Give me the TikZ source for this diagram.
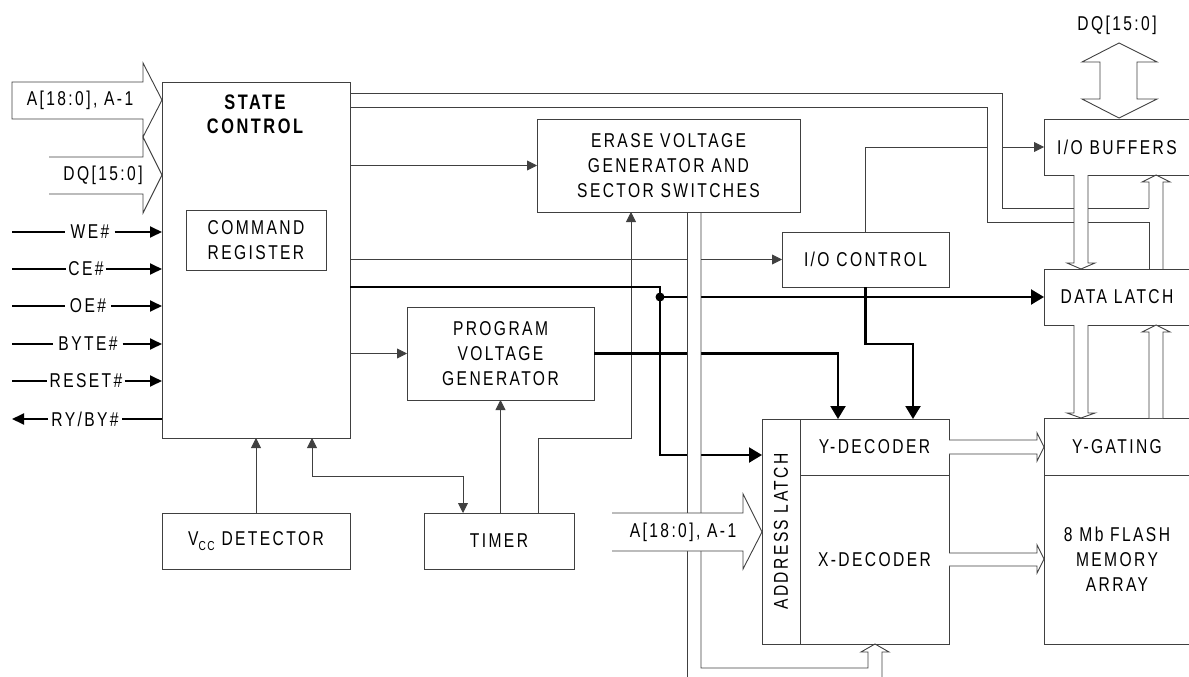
\documentclass[tikz,border=0pt]{standalone}
\usepackage{fontspec}
\setmainfont{Liberation Sans}[FakeStretch=0.78,LetterSpace=12]
\usetikzlibrary{arrows.meta}
\begin{document}
\begin{tikzpicture}[x=1pt,y=-1pt,
  font=\fontsize{20}{25}\selectfont,
  box/.style={draw=black!75,line width=0.9pt,fill=white,inner sep=0pt,outer sep=0pt,align=center,anchor=north west},
  ln/.style={draw=black!75,line width=0.9pt},
  tarr/.style={ln,-{Triangle[length=10pt,width=10pt]}},
  thk/.style={draw=black,line width=2.2pt},
  karr/.style={thk,-{Triangle[length=13pt,width=15pt]}},
  sgl/.style={draw=black,line width=1.8pt},
  sarr/.style={sgl,-{Triangle[length=12pt,width=11pt]}},
  hol/.style={draw=black!75,line width=0.9pt,fill=white,line join=miter},
  lbl/.style={inner sep=0pt,align=center},
  sig/.style={inner xsep=5pt,inner ysep=0pt}
]
\useasboundingbox (0,0) rectangle (1189,677);

% ---------- boxes ----------
\node[box,minimum width=188pt,minimum height=356pt] (sc) at (162,82) {};
\node[lbl,font=\fontsize{21}{24}\selectfont\bfseries] (sct) at (255,114) {STATE\\CONTROL};
\node[box,minimum width=140pt,minimum height=60pt] (cmd) at (186,210) {COMMAND\\REGISTER};
\node[box,minimum width=263pt,minimum height=93pt] (erase) at (537,119) {ERASE VOLTAGE\\GENERATOR AND\\SECTOR SWITCHES};
\node[box,minimum width=187pt,minimum height=93pt] (pvg) at (407,307) {PROGRAM\\VOLTAGE\\GENERATOR};
\node[box,minimum width=188pt,minimum height=56pt] (vcc) at (162,513) {V\raisebox{-5pt}{\fontsize{13}{13}\selectfont CC} DETECTOR};
\node[box,minimum width=150pt,minimum height=56pt] (tm) at (424,513) {TIMER};
\node[box,minimum width=167pt,minimum height=55pt] (ioc) at (782,232) {I/O CONTROL};
\node[box,minimum width=146pt,minimum height=56pt] (iob) at (1044,119) {I/O BUFFERS};
\node[box,minimum width=146pt,minimum height=56pt] (dl) at (1044,269) {DATA LATCH};
\node[box,minimum width=38pt,minimum height=225pt] (al) at (762,419) {};
\node[lbl,rotate=90] (alt) at (al.center) {ADDRESS LATCH};
\node[box,minimum width=149pt,minimum height=56pt] (yd) at (800,419) {Y-DECODER};
\node[box,minimum width=149pt,minimum height=169pt] (xd) at (800,475) {X-DECODER};
\node[box,minimum width=146pt,minimum height=57pt] (yg) at (1044,418) {Y-GATING};
\node[box,minimum width=146pt,minimum height=169pt] (fm) at (1044,475) {8 Mb FLASH\\MEMORY\\ARRAY};

% ---------- input signals ----------
\node[sig] (we) at (90,232) {WE\#};
\draw[sgl] (12,232) -- (we.west);
\draw[sarr] (we.east) -- (we.east -| sc.west);
\node[sig,inner xsep=2pt] (ce) at (86,269) {CE\#};
\draw[sgl] (12,269) -- (ce.west);
\draw[sarr] (ce.east) -- (ce.east -| sc.west);
\node[sig] (oe) at (88,306) {OE\#};
\draw[sgl] (12,306) -- (oe.west);
\draw[sarr] (oe.east) -- (oe.east -| sc.west);
\node[sig] (byte) at (88,344) {BYTE\#};
\draw[sgl] (12,344) -- (byte.west);
\draw[sarr] (byte.east) -- (byte.east -| sc.west);
\node[sig,inner xsep=2pt] (rst) at (86,381) {RESET\#};
\draw[sgl] (12,381) -- (rst.west);
\draw[sarr] (rst.east) -- (rst.east -| sc.west);
\node[sig,inner xsep=3pt] (ry) at (85,419) {RY/BY\#};
\draw[sarr] (ry.west) -- (12,419);
\draw[sgl] (ry.east -| sc.west) -- (ry.east);

% ---------- thin connectors ----------
\draw[tarr] (erase.west -| sc.east) -- (erase.west);
\draw[tarr] (ioc.west -| sc.east) -- (ioc.west);
\draw[tarr] (pvg.west -| sc.east) -- (pvg.west);
\draw[tarr] (ioc.north) |- (iob.west);
\draw[tarr] (vcc.north) -- (vcc.north |- sc.south);
\coordinate (scb) at (312,438);
\coordinate (tmt) at (463,513);
\draw[ln,{Triangle[length=10pt,width=10pt]}-{Triangle[length=10pt,width=10pt]}] (scb) -- (312,476) -| (tmt);
\draw[tarr] (tm.north -| pvg.south) -- (pvg.south);
\coordinate (tme) at (538,513);
\coordinate (erb) at (631,212);
\draw[tarr] (tme) -- (538,438) -| (erb);

% ---------- thick connectors ----------
\coordinate (t0) at (350,287);
\coordinate (jn) at (660,297);
\coordinate (alin) at (762,455);
\draw[karr] (t0) -- (660,287) |- (alin);
\fill (jn) circle (4.5);
\draw[karr] (jn) -- (jn -| dl.west);
\coordinate (yd1) at (838,419);
\coordinate (yd2) at (913,419);
\draw[karr] (pvg.east) -| (yd1);
\draw[karr] (ioc.south) -- ++(0,57) -| (yd2);

% ---------- top bus from state control ----------
\fill[white] (987.5,107) rectangle (1001.5,208);
\draw[ln] (350,93) -- (1002,93) -- (1002,208) -- (1149,208);
\draw[ln] (350,107) -- (987,107) -- (987,222) -- (1149,222);

% ---------- erase bus ----------
\fill[white] (687.5,212.5) rectangle (700.5,677);
\draw[ln] (687,212) -- (687,677);
\draw[hol,fill=none] (701,212) -- (701,668) -- (868,668) -- (868,652) -- (861,652) -- (875,644) -- (889,652) -- (882,652) -- (882,677);

% ---------- hollow bus arrows ----------
\draw[hol] (12,82) -- (143,82) -- (143,63) -- (162,100) -- (143,137) -- (143,119) -- (12,119) -- cycle;
\node[lbl] (ain1) at (80,100) {A[18:0], A-1};
\draw[hol] (49,157) -- (143,157) -- (143,137) -- (162,175) -- (143,213) -- (143,194) -- (49,194);
\node[lbl] (din) at (103,175) {DQ[15:0]};

\draw[hol] (612,513) -- (743,513) -- (743,494) -- (762,532) -- (743,569) -- (743,551) -- (612,551);
\node[lbl] (ain2) at (683,532) {A[18:0], A-1};

\draw[hol] (1100,62) -- (1082,62) -- (1119,43) -- (1157,62) -- (1137,62) -- (1137,99) -- (1157,99) -- (1119,118) -- (1082,99) -- (1100,99) -- cycle;
\node[lbl] (dqt) at (1117,25) {DQ[15:0]};

\draw[hol] (949,440) -- (1037,440) -- (1037,433) -- (1044,447) -- (1037,461) -- (1037,454) -- (949,454);
\draw[hol] (949,553) -- (1037,553) -- (1037,545) -- (1044,559) -- (1037,573) -- (1037,566) -- (949,566);

\draw[hol] (1074,175) -- (1074,263) -- (1067,263) -- (1081,269) -- (1095,263) -- (1088,263) -- (1088,175);
\draw[hol] (1149,269) -- (1149,222);
\draw[hol,fill=none] (1149,208) -- (1149,182) -- (1142,182) -- (1156,175) -- (1170,182) -- (1163,182) -- (1163,269);
\draw[hol] (1074,325) -- (1074,413) -- (1067,413) -- (1081,418) -- (1095,413) -- (1088,413) -- (1088,325);
\draw[hol] (1149,418) -- (1149,332) -- (1142,332) -- (1156,325) -- (1170,332) -- (1163,332) -- (1163,418);
\end{tikzpicture}
\end{document}
